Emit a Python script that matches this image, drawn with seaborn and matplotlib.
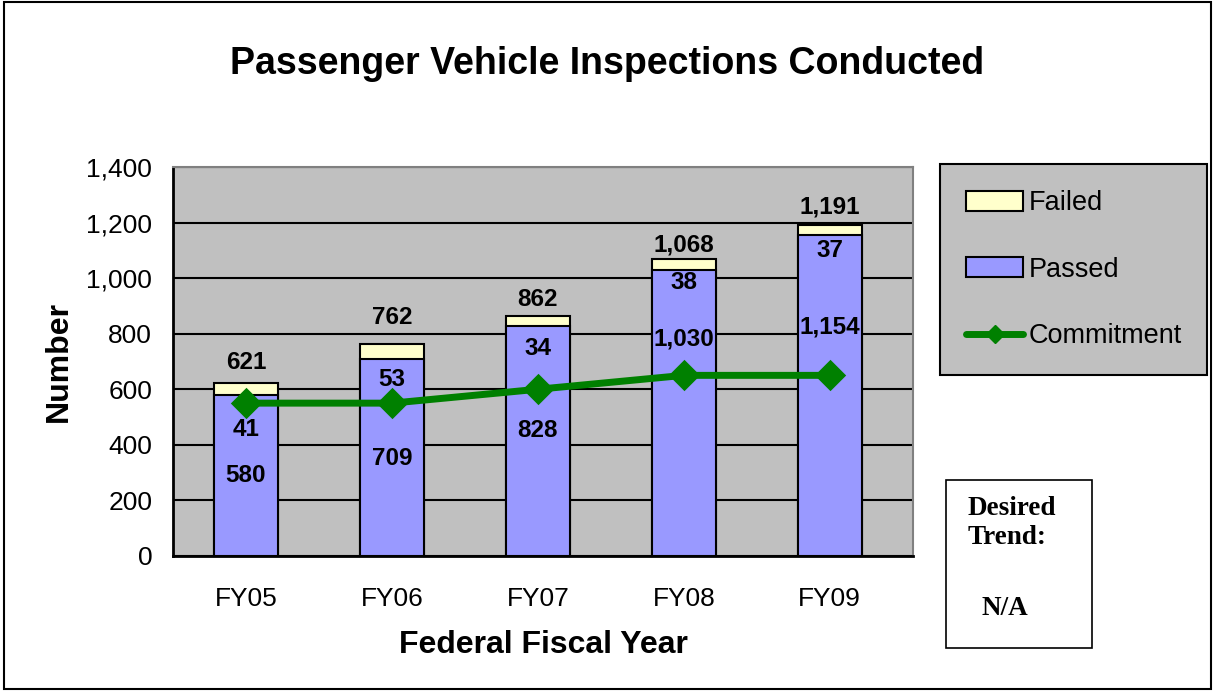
import matplotlib
matplotlib.use("Agg")
import matplotlib.pyplot as plt
import seaborn as sns
import pandas as pd
from matplotlib.patches import Rectangle, Patch
from matplotlib.lines import Line2D
from matplotlib.ticker import FuncFormatter

# data
years = ['FY05', 'FY06', 'FY07', 'FY08', 'FY09']
passed = [580, 709, 828, 1030, 1154]
failed = [41, 53, 34, 38, 37]
commitment = [550, 550, 600, 650, 650]
totals = [p + f for p, f in zip(passed, failed)]

# label placement (as in the original, labels were nudged by hand)
passed_label_y = [290, 352, 452, 780, 825]
failed_label_y = [455, 635, 745, 985, 1100]
total_label_y = [698, 858, 922, 1120, 1256]

sns.set_theme(style='white')
plt.rcParams['font.family'] = ['Liberation Sans', 'DejaVu Sans']
plt.rcParams['text.color'] = 'black'
plt.rcParams['xtick.color'] = 'black'
plt.rcParams['ytick.color'] = 'black'
plt.rcParams['axes.labelcolor'] = 'black'

df = pd.DataFrame({'year': years, 'passed': passed, 'failed': failed,
                   'total': totals, 'commitment': commitment})

fig = plt.figure(figsize=(12.15, 6.91), dpi=100)
ax = fig.add_axes([0.1424, 0.1954, 0.609, 0.563])
ax.set_facecolor('#C0C0C0')

# stacked bars: total (failed colour) behind, passed in front
sns.barplot(data=df, x='year', y='total', color='#FFFFCC', width=0.44,
            edgecolor='black', linewidth=1.5, saturation=1, ax=ax, zorder=2)
sns.barplot(data=df, x='year', y='passed', color='#9999FF', width=0.44,
            edgecolor='black', linewidth=1.5, saturation=1, ax=ax, zorder=3)
sns.pointplot(data=df, x='year', y='commitment', color='#008000',
              markers='D', markersize=12, linewidth=5, ax=ax, zorder=5)

ax.set_ylim(0, 1400)
ax.set_xlim(-0.5, 4.57)
ax.set_yticks(range(0, 1401, 200))
ax.yaxis.set_major_formatter(FuncFormatter(lambda v, p: f'{int(v):,}'))
ax.grid(axis='y', color='black', linewidth=1.5, zorder=0)
ax.set_axisbelow(True)
ax.tick_params(axis='y', length=0, labelsize=19, pad=15)
ax.tick_params(axis='x', length=0, labelsize=19, pad=22)
for side in ['top', 'right']:
    ax.spines[side].set_color('#808080')
    ax.spines[side].set_linewidth(1.5)
for side in ['left', 'bottom']:
    ax.spines[side].set_color('black')
    ax.spines[side].set_linewidth(2)

ax.set_xlabel('Federal Fiscal Year', fontsize=23, fontweight='bold', labelpad=14)
ax.set_ylabel('Number', fontsize=23, fontweight='bold', labelpad=9)

for i in range(len(years)):
    ax.text(i, passed_label_y[i], f'{passed[i]:,}', ha='center', va='center',
            fontsize=17.5, fontweight='bold', zorder=6)
    ax.text(i, failed_label_y[i], f'{failed[i]:,}', ha='center', va='center',
            fontsize=17.5, fontweight='bold', zorder=6)
    ax.text(i, total_label_y[i], f'{totals[i]:,}', ha='center', va='center',
            fontsize=17.5, fontweight='bold', zorder=6)

fig.text(0.5, 0.908, 'Passenger Vehicle Inspections Conducted', ha='center',
         va='center', fontsize=27, fontweight='bold')

handles = [Patch(facecolor='#FFFFCC', edgecolor='black', linewidth=1.5),
           Patch(facecolor='#9999FF', edgecolor='black', linewidth=1.5),
           Line2D([], [], color='#008000', linewidth=5, marker='D', markersize=9)]
leg = fig.legend(handles, ['Failed', 'Passed', 'Commitment'],
                 loc='upper left', bbox_to_anchor=(0.774, 0.762),
                 fontsize=19.5, frameon=True, fancybox=False,
                 labelspacing=1.5, handlelength=2.1, handleheight=0.75,
                 handletextpad=0.2, borderpad=0.95, borderaxespad=0)
frame = leg.get_frame()
frame.set_facecolor('#C0C0C0')
frame.set_edgecolor('black')
frame.set_linewidth(1.5)
frame.set_alpha(1)

# desired trend box
fig.patches.append(Rectangle((0.779, 0.062), 0.120, 0.243, transform=fig.transFigure,
                             facecolor='white', edgecolor='black', linewidth=1.2))
fig.text(0.796, 0.243, 'Desired\nTrend:', ha='left', va='center', fontsize=19.5,
         fontweight='bold', family=['Liberation Serif', 'DejaVu Serif'], linespacing=1.25)
fig.text(0.808, 0.120, 'N/A', ha='left', va='center', fontsize=19.5,
         fontweight='bold', family=['Liberation Serif', 'DejaVu Serif'])

# outer border
fig.patches.append(Rectangle((0.003, 0.003), 0.994, 0.994, transform=fig.transFigure,
                             facecolor='none', edgecolor='black', linewidth=1.5))

fig.savefig('out.png', dpi=100)
